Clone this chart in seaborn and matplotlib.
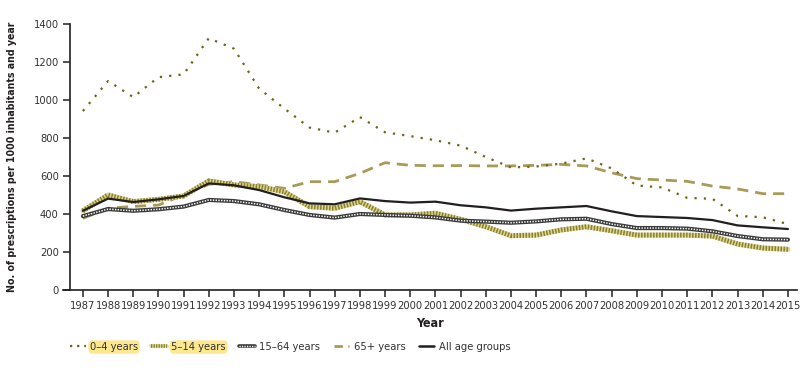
import matplotlib
matplotlib.use("Agg")
import matplotlib.pyplot as plt
import seaborn as sns
import pandas as pd
from matplotlib.lines import Line2D
from matplotlib.legend_handler import HandlerTuple

years = list(range(1987, 2016))
age_0_4 = [942, 1100, 1015, 1120, 1135, 1325, 1270, 1060, 955, 855, 828, 910, 830, 810,
           788, 760, 700, 645, 650, 665, 693, 640, 550, 540, 485, 480, 390, 383, 347]
age_5_14 = [417, 500, 465, 477, 495, 574, 553, 544, 517, 439, 430, 465, 395, 395,
            404, 372, 333, 286, 289, 316, 333, 312, 289, 289, 289, 284, 242, 221, 214]
age_15_64 = [389, 426, 417, 425, 439, 474, 468, 451, 421, 395, 381, 400, 395, 391,
             382, 365, 360, 354, 361, 372, 375, 347, 326, 326, 323, 309, 284, 267, 265]
age_65 = [377, 430, 440, 447, 500, 556, 570, 553, 535, 570, 570, 614, 670, 656,
          654, 655, 653, 653, 656, 661, 653, 617, 586, 579, 572, 547, 532, 507, 507]
all_ages = [417, 481, 463, 477, 495, 561, 551, 526, 488, 456, 451, 482, 468, 460,
            465, 446, 435, 418, 428, 435, 442, 414, 389, 384, 379, 368, 340, 330, 321]
labels = ["0–4 years", "5–14 years", "15–64 years", "65+ years", "All age groups"]

sns.set_theme(style="white")
plt.rcParams['font.family'] = ['DejaVu Sans']
plt.rcParams['font.stretch'] = 'condensed'

fig = plt.figure(figsize=(8.07, 3.71), dpi=100)
ax = fig.add_axes([63/807, (371-290)/371, (797-63)/807, (290-24)/371])

def df(vals):
    return pd.DataFrame({"Year": years, "v": vals})

dark = "#231f20"
olive = "#6e6414"
stripe_light = "#ddd595"
stripe_dark = "#8a8228"
khaki = "#a79b58"
bead = "#3a3a3a"

# 65+
sns.lineplot(data=df(age_65), x="Year", y="v", ax=ax, color=khaki, lw=2.0,
             linestyle=(0, (4, 2.5)), zorder=2)
# 5-14 striped
sns.lineplot(data=df(age_5_14), x="Year", y="v", ax=ax, color=stripe_light, lw=3.6, zorder=3)
sns.lineplot(data=df(age_5_14), x="Year", y="v", ax=ax, color=stripe_dark, lw=3.6,
             linestyle=(0, (0.3, 0.3)), zorder=3)
# All age groups
sns.lineplot(data=df(all_ages), x="Year", y="v", ax=ax, color=dark, lw=1.6, zorder=4)
# 15-64 beaded
sns.lineplot(data=df(age_15_64), x="Year", y="v", ax=ax, color=bead, lw=3.0, zorder=5)
sns.lineplot(data=df(age_15_64), x="Year", y="v", ax=ax, color="white", lw=1.1,
             linestyle=(0, (0.9, 0.9)), zorder=6)
# 0-4 dotted
sns.lineplot(data=df(age_0_4), x="Year", y="v", ax=ax, color=olive, lw=1.6,
             linestyle=(0, (1, 3.2)), zorder=7)

ax.set_xlim(1986.21, 2015.36)
ax.set_ylim(0, 1400)
ax.set_xticks(years)
ax.set_xticklabels([str(y) for y in years])
ax.set_yticks(range(0, 1401, 200))
ax.spines['top'].set_visible(False)
ax.spines['right'].set_visible(False)
ax.spines['left'].set_position(('data', 1986.48))
for s in ['left', 'bottom']:
    ax.spines[s].set_color(dark)
    ax.spines[s].set_linewidth(1.2)
ax.tick_params(axis='both', which='both', direction='out', length=5, width=1.1,
               color=dark, labelsize=8, labelcolor="#333333", pad=3,
               left=True, bottom=True)
ax.set_xlabel("Year", fontsize=9, fontweight='bold', color=dark, labelpad=4)
ax.set_ylabel("No. of prescriptions per 1000 inhabitants and year", fontsize=7.6,
              fontweight='bold', color=dark, labelpad=12)

handles = [
    Line2D([], [], color=olive, lw=1.6, linestyle=(0, (1, 2.2))),
    (Line2D([], [], color=stripe_light, lw=2.6),
     Line2D([], [], color=stripe_dark, lw=2.6, linestyle=(0, (0.35, 0.35)))),
    (Line2D([], [], color=bead, lw=2.6),
     Line2D([], [], color="white", lw=1.0, linestyle=(0, (0.9, 0.9)))),
    Line2D([], [], color=khaki, lw=2.0, linestyle=(0, (3, 2))),
    Line2D([], [], color=dark, lw=1.8),
]
leg = fig.legend(handles, labels, loc='center left', bbox_to_anchor=(60/807, 1-347/371),
                 ncol=5, frameon=False, fontsize=8, handlelength=1.4, handletextpad=0.4,
                 columnspacing=1.2, labelcolor="#333333",
                 handler_map={tuple: HandlerTuple(ndivide=1, pad=0)})
for i, t in enumerate(leg.get_texts()):
    if i < 2:
        t.set_bbox(dict(boxstyle="round,pad=0.15,rounding_size=0.4", facecolor="#fde88f",
                        edgecolor="none"))

fig.savefig("out.png", dpi=100)
